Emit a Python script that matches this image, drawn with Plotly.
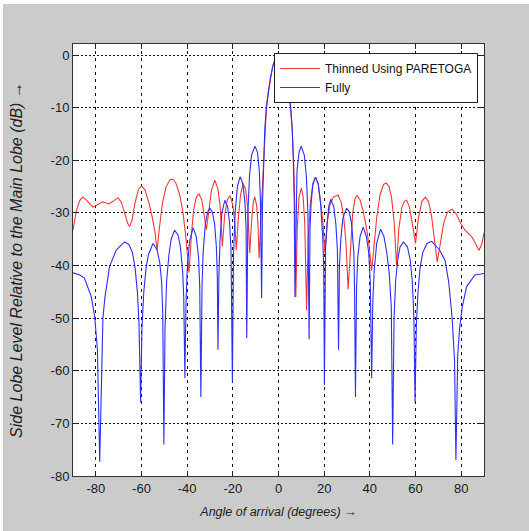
import plotly.graph_objects as go

# ---------------- data ----------------
fully_angle = [
    -90, -87, -85, -82, -80.5, -79.3, -78.3, -77.5, -76.9, -76, -74, -71, -67.4,
    -65.5, -64, -62.8, -61.8, -61.1, -60.4, -59.8, -59, -58, -57, -55,
    -53.2, -52, -51.2, -50.7, -50.2, -49.7, -49, -48, -47, -45.5,
    -44, -43, -42, -41.5, -41, -40.5, -40, -39, -37.4,
    -36, -35, -34.5, -34, -33.5, -33, -32, -31, -30.1,
    -29, -28, -27.2, -26.8, -26.5, -26.1, -25.6, -24.8, -23.5,
    -22.3, -21.4, -20.8, -20.2, -19.7, -19, -18, -16.8,
    -15.6, -14.7, -14.2, -13.9, -13.4, -12.7, -11.8, -10.3,
    -9.2, -8.4, -7.9, -7.4, -7.0, -6.6, -6, -5.3, -4.5, -3.5, -2.5, -1.5, 0,
    1.5, 2.5, 3.5, 4.5, 5.3, 6, 6.5, 6.9, 7.2, 7.6, 8.1, 9, 9.9,
    11.3, 12.2, 12.9, 13.4, 13.8, 14.3, 15.1, 16.2,
    17.4, 18.4, 19.3, 19.8, 20.1, 20.6, 21.3, 22, 22.9,
    24.2, 25.1, 25.8, 26.3, 26.7, 27.3, 28.2, 29.8,
    31, 32, 33, 33.3, 33.7, 34.2, 34.7, 35.7, 37.1,
    38.5, 39.5, 40.2, 40.8, 41.3, 41.9, 43, 44.7,
    46.2, 47.4, 48.5, 49.4, 50, 50.6, 51.3, 52.2, 53.2, 54.7,
    56.5, 57.7, 58.6, 59.3, 59.8, 60.4, 61.1, 62, 63.2, 65, 67,
    68.8, 70.5, 72.9, 74.5, 76, 77.1, 77.7, 78.5, 79.3, 80.5, 82.4, 86, 90,
]
fully_db = [
    -41.4, -41.8, -42.4, -45.9, -49.7, -56, -77.3, -58, -50, -46, -40.2, -37, -35.5,
    -36, -37.5, -40.5, -45, -51, -66, -52, -45, -40.5, -38, -35.8,
    -37, -39.5, -43, -49, -74, -52, -43, -38, -35, -33.3,
    -34.2, -36.3, -41, -46, -61.4, -47, -41, -35.5, -32.8,
    -34.5, -38.5, -44, -65, -44, -37.5, -32, -29.8, -29.1,
    -29.8, -32, -36.5, -42, -56, -42, -35, -30, -27.6,
    -28.8, -32, -37, -62.3, -38, -30, -25, -23.1,
    -24.5, -28, -33, -53.8, -30, -23, -19, -17.3,
    -18.5, -22, -28, -46.2, -28, -20, -14, -10, -7, -4.2, -2.1, -0.8, 0,
    -0.8, -2.1, -4.2, -7, -10, -14, -20, -28, -46, -30, -22, -18.5, -17.3,
    -19, -23, -30, -54, -33, -28, -24.5, -23.2,
    -24.5, -28, -34, -40, -62.7, -37, -32, -28.8, -27.4,
    -28.8, -32, -37, -56, -40, -35, -31, -29.1,
    -29.8, -32, -37.5, -44, -65, -44, -38.5, -34.5, -32.7,
    -34.5, -37.5, -43, -61.4, -47, -41, -35.8, -33.1,
    -34.5, -37.5, -41.5, -48, -74, -50, -43, -39, -36.5, -35.5,
    -36.5, -39, -43, -50, -66, -51, -45, -40.5, -37.5, -35.8, -35.4,
    -36.2, -37, -39, -43, -49.7, -58, -77, -57, -52, -47.8, -44, -41.8, -41.5,
]

thinned_angle = [
    -90, -88.5, -87, -85.7, -84, -82.5, -81.3, -79.5, -77, -75.5, -74.2, -72.5, -70.3,
    -68.8, -67.3, -66, -65.2, -64.2, -62.8, -61.3, -60,
    -58.5, -56.8, -55.2, -54, -53.2, -52.2, -50.8, -49.2, -47.5, -46.3,
    -45, -43.3, -41.8, -40.5, -39.2, -38.1, -37.2, -36, -34.8,
    -33.6, -32.6, -31.6, -30.6, -29.4, -27.9,
    -26.6, -25.6, -24.6, -23.6, -22.4, -21.2,
    -20, -19.1, -18.5, -17.6, -16.6, -15.5,
    -14.4, -13.5, -12.6, -11.7, -11, -10.4,
    -9.6, -9, -8.5, -7.5, -6.6, -6, -5.3, -4.5, -3.5, -2.5, -1.5, 0,
    1.5, 2.5, 3.5, 4.5, 5.3, 6, 6.6, 7.2, 7.6, 8.2, 9, 10,
    10.8, 11.5, 12.3, 13, 14, 15, 16.2,
    17.4, 18.4, 19.4, 20.3, 21.3, 22.5, 24, 26.1,
    27.5, 28.6, 29.6, 30.5, 31.5, 32.5, 33.5, 34.4,
    35.7, 37, 38.4, 39.6, 40.8, 41.8, 43, 44.5, 46, 47.2,
    48.4, 49.5, 50.7, 51.7, 52.7, 54, 55.1, 56.1,
    57.3, 58.6, 60, 61.3, 62.8, 64.3,
    65.7, 67, 68.3, 69.5, 70.8, 72.3, 74, 76.1,
    78, 79.8, 81.7, 84.6, 86.5, 87.8, 89, 90,
]
thinned_db = [
    -33.3, -29.5, -27.6, -27, -27.6, -28.4, -28.9, -28.5, -27.9, -28.1, -28.3, -27.8, -27.1,
    -28, -30, -32, -32.6, -31.5, -28, -25.5, -24.9,
    -25.6, -28, -31, -34, -37.1, -33, -28, -25, -23.7, -23.6,
    -24.3, -26.5, -30, -35, -41.3, -34, -29.5, -27, -26.4,
    -27.5, -30, -33.2, -30, -25.8, -23.8,
    -25.3, -28.5, -36.4, -30.5, -27.5, -26.7,
    -28.5, -32, -37.1, -31, -26.5, -24.4,
    -25.5, -29, -37.6, -31, -28, -26.9,
    -28.5, -32, -38.6, -29, -20, -14, -10, -7, -4.2, -2.1, -0.8, 0,
    -0.8, -2.1, -4.2, -7, -10, -14, -20, -30, -46, -33, -27, -25.3,
    -27, -32, -48.5, -35, -28, -24.5, -23.2,
    -24.5, -27.5, -31.5, -37.5, -32, -28.5, -27, -26.6,
    -28, -31, -36, -44.5, -36, -30, -27.3, -26.7,
    -27.5, -29.5, -32.5, -36, -41, -37, -31, -26.5, -24.6, -24.3,
    -25, -27, -32, -40, -33, -29, -27.8, -27.6,
    -28.8, -32, -35.8, -31, -27.8, -27,
    -27.8, -30.5, -35, -39.3, -36, -32, -29.8, -29.3,
    -30.3, -32, -33.3, -34.5, -36, -37.1, -36, -33.8,
]

x_ticks = [-80, -60, -40, -20, 0, 20, 40, 60, 80]
x_tick_labels = ["-80", "-60", "-40", "-20", "0", "20", "40", "60", "80"]
y_ticks = [0, -10, -20, -30, -40, -50, -60, -70, -80]
y_tick_labels = ["0", "-10", "-20", "-30", "-40", "-50", "-60", "-70", "-80"]

series_names = ["Thinned Using PARETOGA", "Fully"]

# ---------------- figure ----------------
fig = go.Figure()
fig.add_trace(go.Scatter(x=thinned_angle, y=thinned_db, mode="lines",
                         name=series_names[0],
                         line=dict(color="rgb(245,55,55)", width=1.1)))
fig.add_trace(go.Scatter(x=fully_angle, y=fully_db, mode="lines",
                         name=series_names[1],
                         line=dict(color="rgb(45,45,245)", width=1.1)))

FONT = "Liberation Sans, Arial, sans-serif"
axis_font = dict(family=FONT, size=13, color="#1a1a1a")

fig.update_xaxes(range=[-90, 90], tickvals=x_ticks, ticktext=x_tick_labels,
                 ticks="inside", ticklen=5,
                 tickcolor="#222", showline=True, linecolor="#333", linewidth=1,
                 mirror="ticks", showgrid=True, gridcolor="#111", gridwidth=1,
                 griddash="3px,4px", zeroline=False, tickfont=axis_font,
                 title=dict(text="<i>Angle of arrival (degrees) →</i>",
                            font=dict(family=FONT, size=12.5, color="#222"),
                            standoff=12))
fig.update_yaxes(range=[-80, 2.1], tickvals=y_ticks, ticktext=y_tick_labels,
                 ticks="inside", ticklen=5,
                 tickcolor="#222", showline=True, linecolor="#333", linewidth=1,
                 mirror="ticks", showgrid=True, gridcolor="#111", gridwidth=1,
                 griddash="2px,2px", zeroline=False, tickfont=axis_font,
                 title=dict(text="<i>Side Lobe Level Relative to the Main Lobe (dB) →</i>",
                            font=dict(family=FONT, size=16, color="#222"),
                            standoff=24))

fig.update_layout(
    width=529, height=531,
    margin=dict(l=73, r=45, t=44, b=55),
    paper_bgcolor="#cbcbcb", plot_bgcolor="white",
    showlegend=True,
    legend=dict(x=0.489, y=0.979, xanchor="left", yanchor="top",
                bgcolor="white", bordercolor="#222", borderwidth=1,
                font=dict(family=FONT, size=12, color="#111"),
                tracegroupgap=0, itemwidth=40),
    shapes=[
        dict(type="rect", xref="paper", yref="paper", x0=-0.18, x1=1.12,
             y0=1.0926, y1=1.11, fillcolor="white", line=dict(width=0), layer="below"),
        dict(type="rect", xref="paper", yref="paper", x0=-0.18, x1=-0.1703,
             y0=-0.13, y1=1.11, fillcolor="white", line=dict(width=0), layer="below"),
    ],
)

fig.write_html("out.html",
               config={"displayModeBar": False},
               post_script="document.body.style.margin='0';document.body.style.overflow='hidden';")
